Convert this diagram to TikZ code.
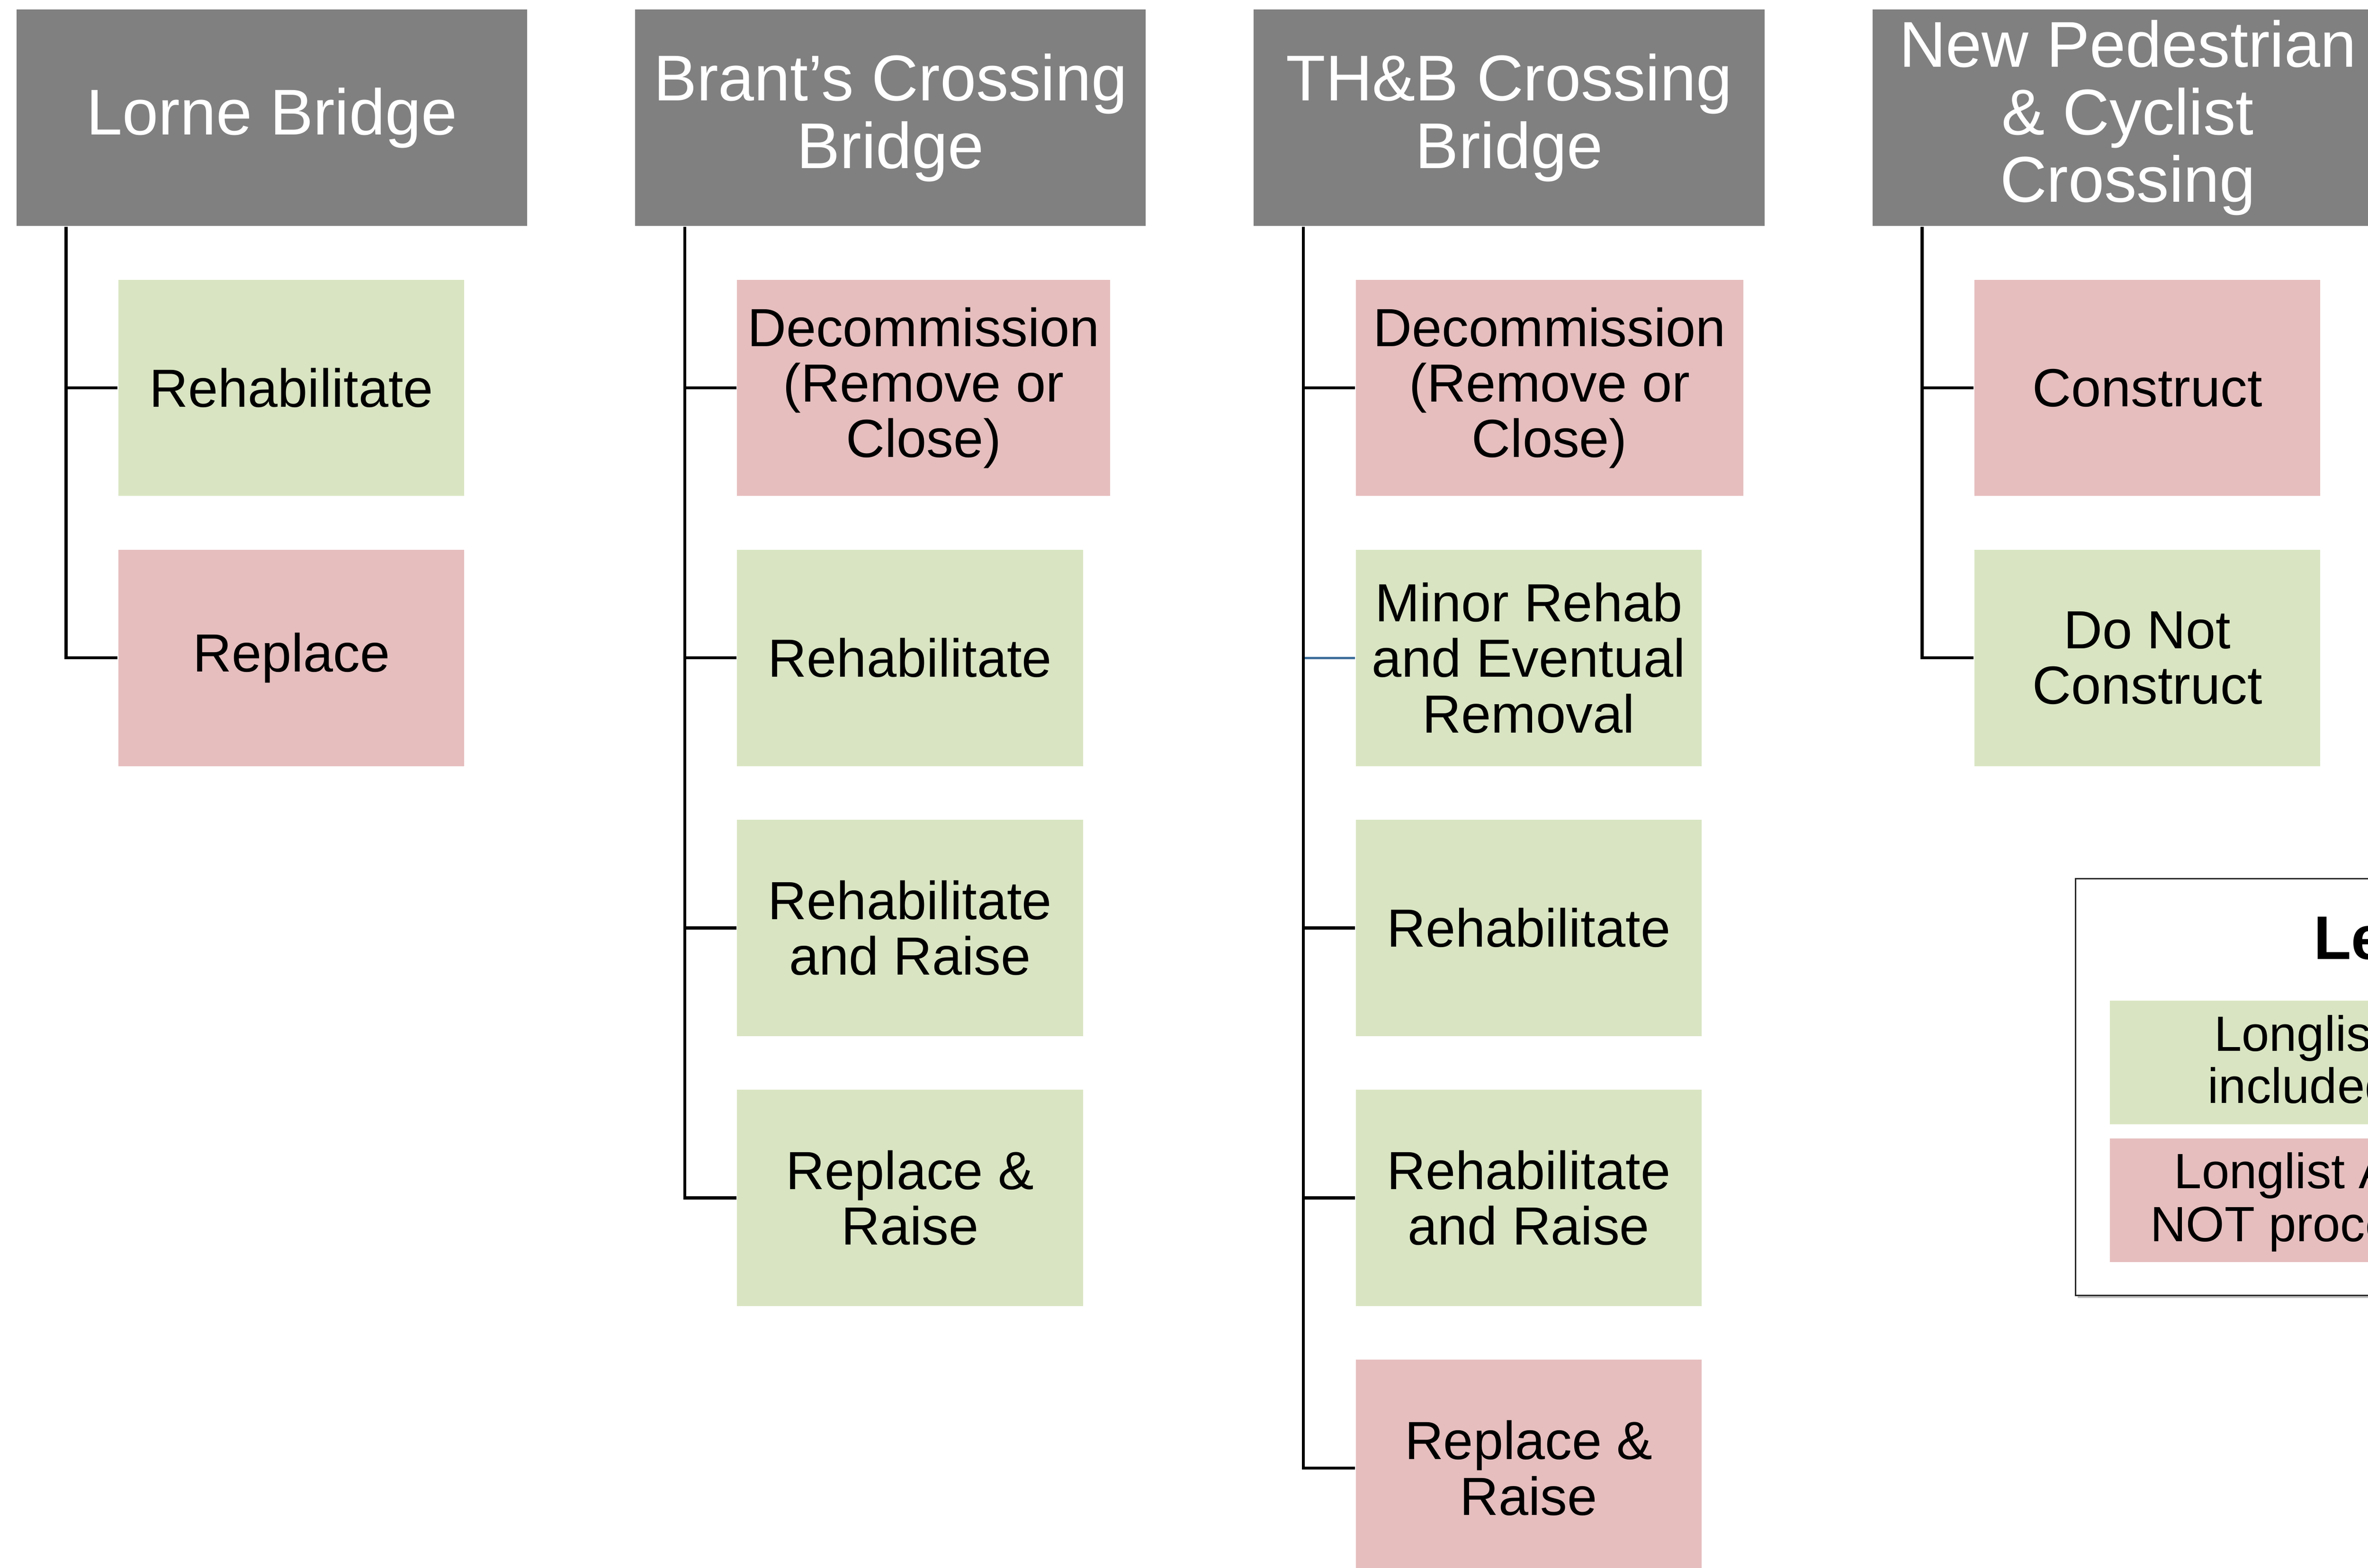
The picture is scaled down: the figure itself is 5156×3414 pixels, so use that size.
\documentclass[tikz,border=0pt]{standalone}
\usepackage{fontspec}
\setmainfont{Liberation Sans}
\usetikzlibrary{calc}
\definecolor{hdrgray}{RGB}{128,128,128}
\definecolor{optgreen}{RGB}{217,229,194}
\definecolor{optpink}{RGB}{230,190,190}
\definecolor{stubblue}{RGB}{65,113,156}
\definecolor{legline}{RGB}{40,40,40}
\begin{document}
\begin{tikzpicture}[x=0.1pt,y=-0.1pt,
  hdr/.style={fill=hdrgray, text=white, minimum width=111.2pt, minimum height=47.1pt,
    inner sep=0pt, anchor=north west, align=center, font=\fontsize{14.1pt}{14.7pt}\selectfont},
  opt/.style={minimum width=75.3pt, minimum height=47.1pt, inner sep=0pt,
    anchor=north west, align=center, font=\fontsize{11.7pt}{12.1pt}\selectfont},
  keep/.style={opt, fill=optgreen},
  drop/.style={opt, fill=optpink},
  trunk/.style={line width=0.65pt, draw=black},
  bluestub/.style={line width=0.5pt, draw=stubblue},
  legtxt/.style={inner sep=0pt, anchor=base west, font=\fontsize{10.8pt}{11.5pt}\selectfont},
  legbar/.style={inner sep=0pt, anchor=north west, minimum width=138.4pt, minimum height=26.9pt}]
\useasboundingbox (0,0) rectangle (5156,3414);

% headers
\node[hdr] (h1) at (34,19) {Lorne Bridge};
\node[hdr] (h2) at (1381,19) {Brant’s Crossing\\Bridge};
\node[hdr] (h3) at (2728,19) {TH\&B Crossing\\Bridge};
\node[hdr] (h4) at (4075,19) {New Pedestrian\\\& Cyclist\\Crossing};

% Lorne Bridge options
\node[keep] (c11) at (256,607) {Rehabilitate};
\node[drop] (c12) at (256,1195) {Replace};

% Brant's Crossing options
\node[drop, minimum width=81.2pt] (c21) at (1603,607) {Decommission\\(Remove or\\Close)};
\node[keep] (c22) at (1603,1195) {Rehabilitate};
\node[keep] (c23) at (1603,1783) {Rehabilitate\\and Raise};
\node[keep] (c24) at (1603,2371) {Replace \&\\Raise};

% TH&B options
\node[drop, minimum width=84.4pt] (c31) at (2950,607) {Decommission\\(Remove or\\Close)};
\node[keep] (c32) at (2950,1195) {Minor Rehab\\and Eventual\\Removal};
\node[keep] (c33) at (2950,1783) {Rehabilitate};
\node[keep] (c34) at (2950,2371) {Rehabilitate\\and Raise};
\node[drop] (c35) at (2950,2959) {Replace \&\\Raise};

% New crossing options
\node[drop] (c41) at (4297,607) {Construct};
\node[keep] (c42) at (4297,1195) {Do Not\\Construct};

% trunks
\coordinate (t1) at ($(h1.south west)+(110,0)$);
\coordinate (t2) at ($(h2.south west)+(110,0)$);
\coordinate (t3) at ($(h3.south west)+(110,0)$);
\coordinate (t4) at ($(h4.south west)+(110,0)$);

\draw[trunk] (t1) |- (c12.west);
\draw[trunk] (t1 |- c11.west) -- (c11.west);

\draw[trunk] (t2) |- (c24.west);
\draw[trunk] (t2 |- c21.west) -- (c21.west);
\draw[trunk] (t2 |- c22.west) -- (c22.west);
\draw[trunk] (t2 |- c23.west) -- (c23.west);

\draw[trunk] (t3) |- (c35.west);
\draw[trunk] (t3 |- c31.west) -- (c31.west);
\draw[bluestub] ($(t3 |- c32.west)+(3,0)$) -- (c32.west);
\draw[trunk] (t3 |- c33.west) -- (c33.west);
\draw[trunk] (t3 |- c34.west) -- (c34.west);

\draw[trunk] (t4) |- (c42.west);
\draw[trunk] (t4 |- c41.west) -- (c41.west);

% legend
\fill[black!25] (4524,1918) rectangle (6056,2826);
\node[draw=legline, fill=white, line width=0.3pt, inner sep=0pt, anchor=north west,
  minimum width=153.2pt, minimum height=90.7pt] (legend) at (4518,1912) {};
\node[inner sep=0pt, anchor=base west, font=\fontsize{13.4pt}{14pt}\selectfont\bfseries] (legtitle) at (5036,2089) {Legend};
\node[legbar, fill=optgreen] (lgreen) at (4592,2177) {};
\node[legbar, fill=optpink] (lpink) at (4592,2477) {};
\node[legtxt] (lg1) at (4819,2289) {Longlist Alternative};
\node[legtxt] (lg2) at (4805,2402) {included in Shortlist};
\node[legtxt] (lp1) at (4732,2588) {Longlist Alternative};
\node[legtxt] (lp2) at (4680,2703) {NOT proceeding};
\end{tikzpicture}
\end{document}
